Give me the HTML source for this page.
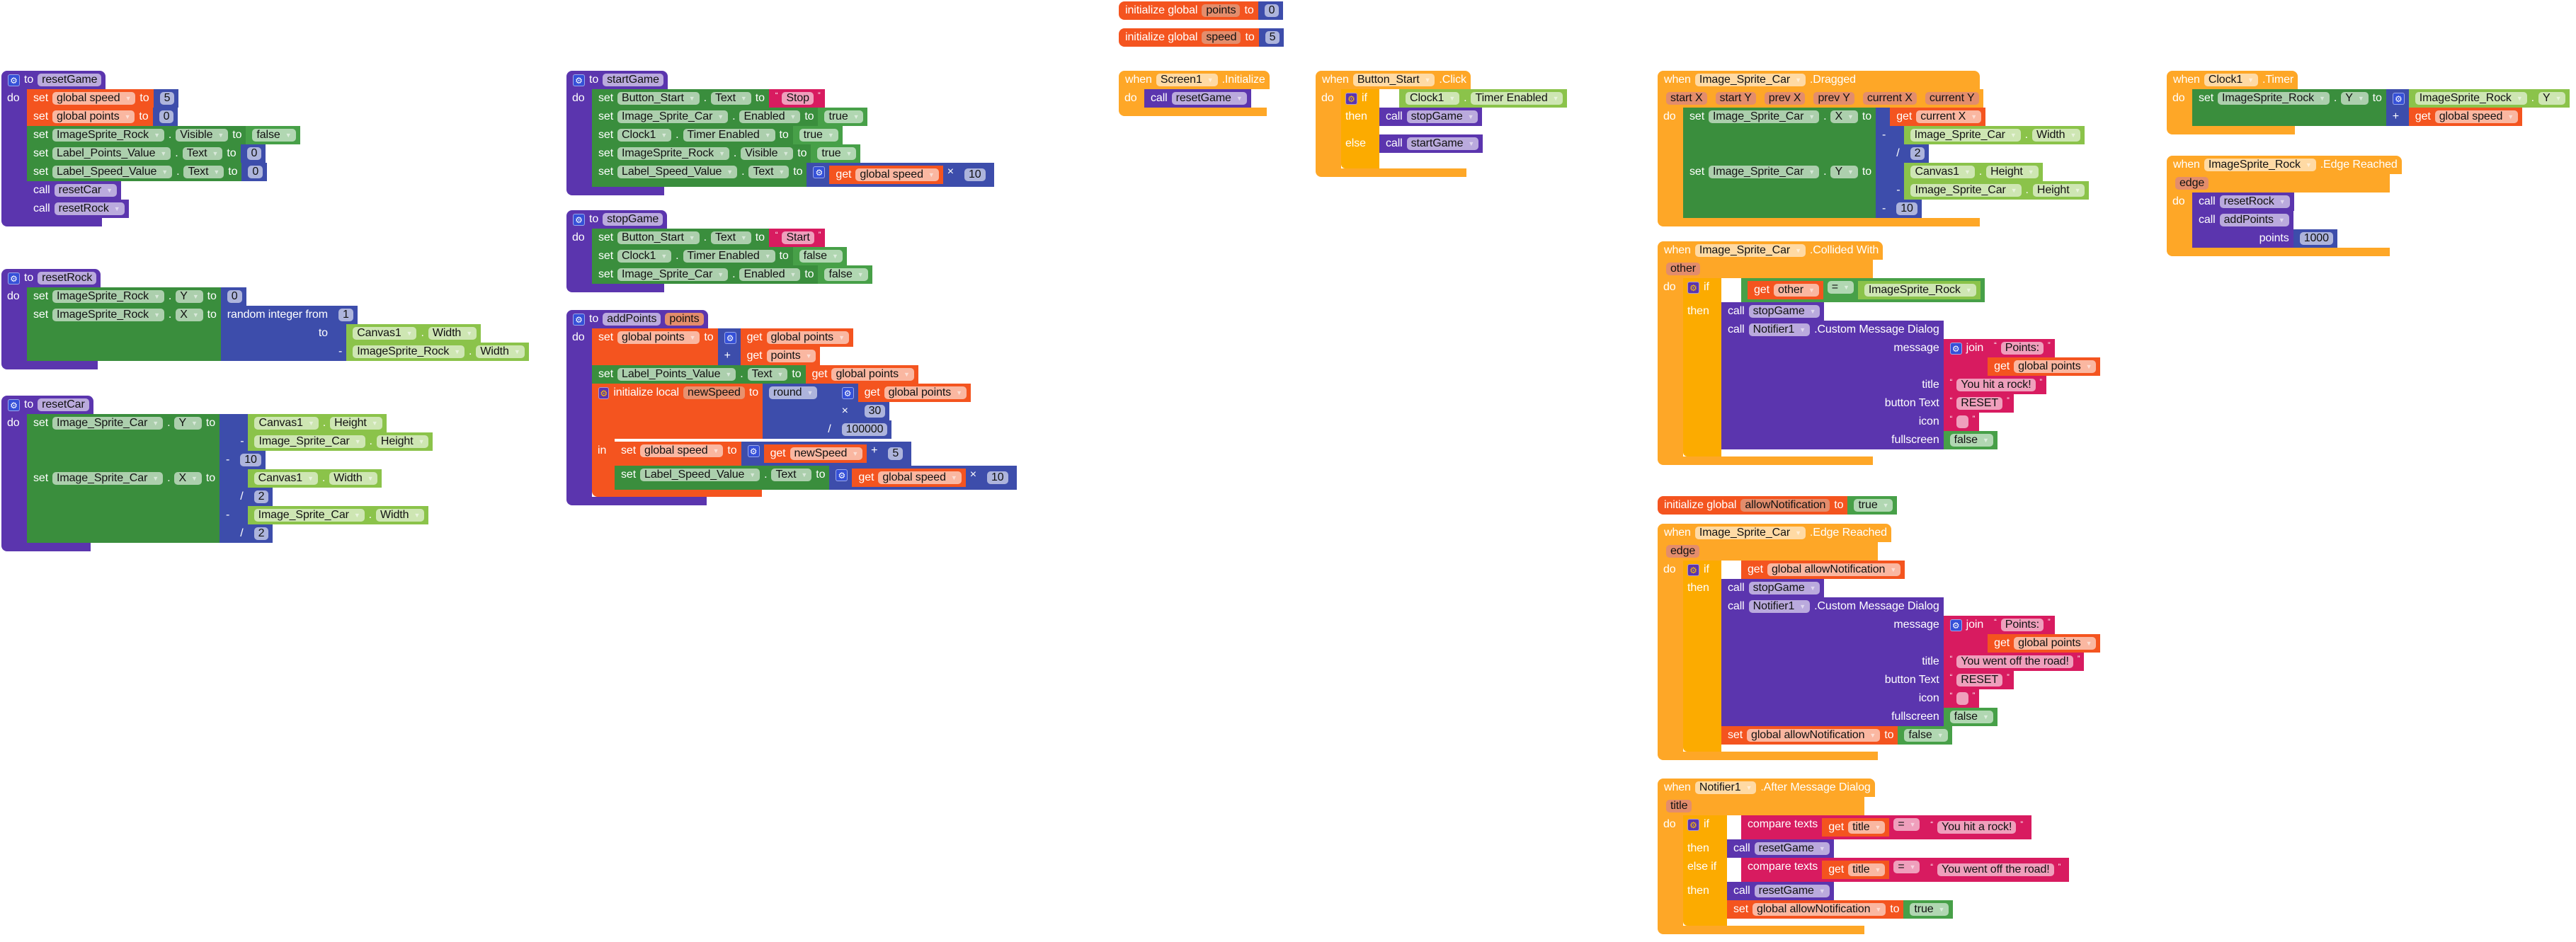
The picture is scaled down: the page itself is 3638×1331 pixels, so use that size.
<!DOCTYPE html>
<html><head><meta charset="utf-8"><style>
html,body{margin:0;padding:0;background:#fff}
body{width:3638px;height:1331px;position:relative;overflow:hidden;font-family:"Liberation Sans",Arial,sans-serif;font-size:16px;letter-spacing:-0.1px}
.h{position:absolute;display:flex;flex-direction:column;align-items:flex-start}
.hd{background:var(--c);min-height:26px;line-height:26px;color:#fff;display:flex;gap:6px;padding:0 6px 0 9px;box-sizing:border-box;white-space:nowrap}
.hd.t{border-radius:8px 8px 0 0}
.bd{display:flex}
.lb{background:var(--c);width:36px;color:#fff;line-height:26px;padding-left:8px;box-sizing:border-box;flex:none}
.bt{background:var(--c);height:12px;border-radius:0 0 0 8px}
.s{display:flex;flex-direction:column;align-items:flex-start}
.b{display:inline-grid;grid-template-columns:auto auto;width:max-content;vertical-align:top}
.f{grid-column:1;background:var(--c);display:flex;justify-content:flex-end;align-items:flex-start;gap:6px;padding:0 6px 0 9px;min-height:26px;line-height:26px;color:#fff;white-space:nowrap}
.f.l{justify-content:flex-start}
.c{grid-column:2;align-self:start}
.f .b{margin:4px 0}
.f.bb{min-height:10px;border-radius:0 0 0 6px}
.ct{grid-template-columns:54px auto}
.ct>.f{justify-content:flex-start;padding-left:6px}
.iv{margin-left:28px}
p{margin:4px 0 0;display:inline-block;height:18px;line-height:18px;padding:0 6px;border-radius:5px;background:rgba(255,255,255,.58);color:#111}
p i{font-style:normal;font-size:9px;margin-left:7px;opacity:.55;vertical-align:top;color:#fff}
p.pr{background:#e38d6c}
.q{font-size:11px;line-height:18px}
.g{display:inline-block;width:17px;height:17px;margin-top:5px;background:#3550d8;border-radius:3px;color:#fff;font-size:12px;line-height:17px;text-align:center;border:1px solid rgba(255,255,255,.5);box-sizing:border-box}
.g.y{background:#5b35ae;color:#ffc400}
.pu{--c:#5b35ae}.or{--c:#f4541f}.dg{--c:#3a8e3d}.lg{--c:#8bc34a}.bl{--c:#3d4dab}.lo{--c:#47a048}.tx{--c:#d81b60}.ev{--c:#fea727}.ct{--c:#fcab00}
</style></head><body>

<!-- resetGame -->
<div class="h pu" style="left:2px;top:100px">
<div class="hd t" style="min-width:142px"><span class="g">⚙</span>to<p>resetGame</p></div>
<div class="bd"><div class="lb">do</div><div class="s">
<div class="b or"><div class="f l">set<p>global speed<i>▼</i></p>to</div><div class="c"><div class="b bl"><div class="f"><p>5</p></div></div></div></div>
<div class="b or"><div class="f l">set<p>global points<i>▼</i></p>to</div><div class="c"><div class="b bl"><div class="f"><p>0</p></div></div></div></div>
<div class="b dg"><div class="f l">set<p>ImageSprite_Rock<i>▼</i></p>.<p>Visible<i>▼</i></p>to</div><div class="c"><div class="b lo"><div class="f"><p>false<i>▼</i></p></div></div></div></div>
<div class="b dg"><div class="f l">set<p>Label_Points_Value<i>▼</i></p>.<p>Text<i>▼</i></p>to</div><div class="c"><div class="b bl"><div class="f"><p>0</p></div></div></div></div>
<div class="b dg"><div class="f l">set<p>Label_Speed_Value<i>▼</i></p>.<p>Text<i>▼</i></p>to</div><div class="c"><div class="b bl"><div class="f"><p>0</p></div></div></div></div>
<div class="b pu"><div class="f l">call<p>resetCar<i>▼</i></p></div></div>
<div class="b pu"><div class="f l">call<p>resetRock<i>▼</i></p></div></div>
</div></div>
<div class="bt" style="width:142px"></div>
</div>

<!-- resetRock -->
<div class="h pu" style="left:2px;top:380px">
<div class="hd t" style="min-width:136px"><span class="g">⚙</span>to<p>resetRock</p></div>
<div class="bd"><div class="lb">do</div><div class="s">
<div class="b dg"><div class="f l">set<p>ImageSprite_Rock<i>▼</i></p>.<p>Y<i>▼</i></p>to</div><div class="c"><div class="b bl"><div class="f"><p>0</p></div></div></div></div>
<div class="b dg"><div class="f l">set<p>ImageSprite_Rock<i>▼</i></p>.<p>X<i>▼</i></p>to</div><div class="c">
 <div class="b bl"><div class="f l">random integer from</div><div class="c"><div class="b bl"><div class="f"><p>1</p></div></div></div>
 <div class="f">to</div><div class="c"><div class="b bl"><div class="f"></div><div class="c"><div class="b lg"><div class="f l"><p>Canvas1<i>▼</i></p>.<p>Width<i>▼</i></p></div></div></div><div class="f">-</div><div class="c"><div class="b lg"><div class="f l"><p>ImageSprite_Rock<i>▼</i></p>.<p>Width<i>▼</i></p></div></div></div></div></div></div>
</div></div>
</div></div>
<div class="bt" style="width:136px"></div>
</div>

<!-- resetCar -->
<div class="h pu" style="left:2px;top:559px">
<div class="hd t" style="min-width:126px"><span class="g">⚙</span>to<p>resetCar</p></div>
<div class="bd"><div class="lb">do</div><div class="s">
<div class="b dg"><div class="f l">set<p>Image_Sprite_Car<i>▼</i></p>.<p>Y<i>▼</i></p>to</div><div class="c">
 <div class="b bl"><div class="f"></div><div class="c"><div class="b bl"><div class="f"></div><div class="c"><div class="b lg"><div class="f l"><p>Canvas1<i>▼</i></p>.<p>Height<i>▼</i></p></div></div></div><div class="f">-</div><div class="c"><div class="b lg"><div class="f l"><p>Image_Sprite_Car<i>▼</i></p>.<p>Height<i>▼</i></p></div></div></div></div></div>
 <div class="f">-</div><div class="c"><div class="b bl"><div class="f"><p>10</p></div></div></div></div>
</div></div>
<div class="b dg"><div class="f l">set<p>Image_Sprite_Car<i>▼</i></p>.<p>X<i>▼</i></p>to</div><div class="c">
 <div class="b bl"><div class="f"></div><div class="c"><div class="b bl"><div class="f"></div><div class="c"><div class="b lg"><div class="f l"><p>Canvas1<i>▼</i></p>.<p>Width<i>▼</i></p></div></div></div><div class="f">/</div><div class="c"><div class="b bl"><div class="f"><p>2</p></div></div></div></div></div>
 <div class="f">-</div><div class="c"><div class="b bl"><div class="f"></div><div class="c"><div class="b lg"><div class="f l"><p>Image_Sprite_Car<i>▼</i></p>.<p>Width<i>▼</i></p></div></div></div><div class="f">/</div><div class="c"><div class="b bl"><div class="f"><p>2</p></div></div></div></div></div></div>
</div></div>
</div></div>
<div class="bt" style="width:126px"></div>
</div>

<!-- startGame -->
<div class="h pu" style="left:800px;top:100px">
<div class="hd t" style="min-width:138px"><span class="g">⚙</span>to<p>startGame</p></div>
<div class="bd"><div class="lb">do</div><div class="s">
<div class="b dg"><div class="f l">set<p>Button_Start<i>▼</i></p>.<p>Text<i>▼</i></p>to</div><div class="c"><div class="b tx"><div class="f"><span class="q">“</span><p>Stop</p><span class="q">”</span></div></div></div></div>
<div class="b dg"><div class="f l">set<p>Image_Sprite_Car<i>▼</i></p>.<p>Enabled<i>▼</i></p>to</div><div class="c"><div class="b lo"><div class="f"><p>true<i>▼</i></p></div></div></div></div>
<div class="b dg"><div class="f l">set<p>Clock1<i>▼</i></p>.<p>Timer Enabled<i>▼</i></p>to</div><div class="c"><div class="b lo"><div class="f"><p>true<i>▼</i></p></div></div></div></div>
<div class="b dg"><div class="f l">set<p>ImageSprite_Rock<i>▼</i></p>.<p>Visible<i>▼</i></p>to</div><div class="c"><div class="b lo"><div class="f"><p>true<i>▼</i></p></div></div></div></div>
<div class="b dg"><div class="f l">set<p>Label_Speed_Value<i>▼</i></p>.<p>Text<i>▼</i></p>to</div><div class="c"><div class="b bl"><div class="f l"><span class="g">⚙</span><div class="b or"><div class="f l">get<p>global speed<i>▼</i></p></div></div>×<div class="b bl"><div class="f"><p>10</p></div></div></div></div></div></div>
</div></div>
<div class="bt" style="width:138px"></div>
</div>

<!-- stopGame -->
<div class="h pu" style="left:800px;top:297px">
<div class="hd t" style="min-width:138px"><span class="g">⚙</span>to<p>stopGame</p></div>
<div class="bd"><div class="lb">do</div><div class="s">
<div class="b dg"><div class="f l">set<p>Button_Start<i>▼</i></p>.<p>Text<i>▼</i></p>to</div><div class="c"><div class="b tx"><div class="f"><span class="q">“</span><p>Start</p><span class="q">”</span></div></div></div></div>
<div class="b dg"><div class="f l">set<p>Clock1<i>▼</i></p>.<p>Timer Enabled<i>▼</i></p>to</div><div class="c"><div class="b lo"><div class="f"><p>false<i>▼</i></p></div></div></div></div>
<div class="b dg"><div class="f l">set<p>Image_Sprite_Car<i>▼</i></p>.<p>Enabled<i>▼</i></p>to</div><div class="c"><div class="b lo"><div class="f"><p>false<i>▼</i></p></div></div></div></div>
</div></div>
<div class="bt" style="width:138px"></div>
</div>

<!-- addPoints -->
<div class="h pu" style="left:800px;top:438px">
<div class="hd t" style="min-width:198px"><span class="g">⚙</span>to<p>addPoints</p><p class="pr">points</p></div>
<div class="bd"><div class="lb">do</div><div class="s">
<div class="b or"><div class="f l">set<p>global points<i>▼</i></p>to</div><div class="c">
 <div class="b bl"><div class="f l"><span class="g">⚙</span></div><div class="c"><div class="b or"><div class="f l">get<p>global points<i>▼</i></p></div></div></div><div class="f l">+</div><div class="c"><div class="b or"><div class="f l">get<p>points<i>▼</i></p></div></div></div></div>
</div></div>
<div class="b dg"><div class="f l">set<p>Label_Points_Value<i>▼</i></p>.<p>Text<i>▼</i></p>to</div><div class="c"><div class="b or"><div class="f l">get<p>global points<i>▼</i></p></div></div></div></div>
<div class="or" style="display:flex;flex-direction:column;align-items:flex-start">
 <div class="b or"><div class="f l" style="width:226px;justify-content:flex-start"><span class="g y">⚙</span>initialize local<p class="pr" style="background:#e8916f">newSpeed</p>to</div><div class="c">
  <div class="b bl"><div class="f l"><p>round<i>▼</i></p></div><div class="c">
   <div class="b bl"><div class="f"></div><div class="c"><div class="b bl"><div class="f l"><span class="g">⚙</span></div><div class="c"><div class="b or"><div class="f l">get<p>global points<i>▼</i></p></div></div></div><div class="f l">×</div><div class="c"><div class="b bl"><div class="f"><p>30</p></div></div></div></div></div>
   <div class="f">/</div><div class="c"><div class="b bl"><div class="f"><p>100000</p></div></div></div></div>
  </div></div>
 </div></div>
 <div class="bd"><div class="lb" style="width:32px;padding-top:4px">in</div><div class="s" style="padding-top:4px">
  <div class="b or"><div class="f l">set<p>global speed<i>▼</i></p>to</div><div class="c"><div class="b bl"><div class="f l"><span class="g">⚙</span><div class="b or"><div class="f l">get<p>newSpeed<i>▼</i></p></div></div>+<div class="b bl"><div class="f"><p>5</p></div></div></div></div></div></div>
  <div class="b dg"><div class="f l">set<p>Label_Speed_Value<i>▼</i></p>.<p>Text<i>▼</i></p>to</div><div class="c"><div class="b bl"><div class="f l"><span class="g">⚙</span><div class="b or"><div class="f l">get<p>global speed<i>▼</i></p></div></div>×<div class="b bl"><div class="f"><p>10</p></div></div></div></div></div></div>
 </div></div>
 <div class="bt" style="width:240px;height:10px"></div>
</div>
</div></div>
<div class="bt" style="width:198px"></div>
</div>

<!-- init globals -->
<div class="h or" style="left:1580px;top:2px"><div class="b or"><div class="f l" style="border-radius:8px 0 0 8px">initialize global<p class="pr">points</p>to</div><div class="c"><div class="b bl"><div class="f"><p>0</p></div></div></div></div></div>
<div class="h or" style="left:1580px;top:40px"><div class="b or"><div class="f l" style="border-radius:8px 0 0 8px">initialize global<p class="pr">speed</p>to</div><div class="c"><div class="b bl"><div class="f"><p>5</p></div></div></div></div></div>

<!-- Screen1.Initialize -->
<div class="h ev" style="left:1580px;top:100px">
<div class="hd t" style="min-width:209px">when<p>Screen1<i>▼</i></p>.Initialize</div>
<div class="bd"><div class="lb">do</div><div class="s">
<div class="b pu"><div class="f l">call<p>resetGame<i>▼</i></p></div></div>
</div></div>
<div class="bt" style="width:209px"></div>
</div>

<!-- Button_Start.Click -->
<div class="h ev" style="left:1858px;top:100px">
<div class="hd t" style="min-width:213px">when<p>Button_Start<i>▼</i></p>.Click</div>
<div class="bd"><div class="lb">do</div><div class="s">
<div class="b ct"><div class="f"><span class="g y">⚙</span>if</div><div class="c iv"><div class="b lg"><div class="f l"><p>Clock1<i>▼</i></p>.<p>Timer Enabled<i>▼</i></p></div></div></div>
<div class="f" style="min-height:38px">then</div><div class="c"><div class="s"><div class="b pu"><div class="f l">call<p>stopGame<i>▼</i></p></div></div></div></div>
<div class="f" style="min-height:38px">else</div><div class="c"><div class="s"><div class="b pu"><div class="f l">call<p>startGame<i>▼</i></p></div></div></div></div>
<div class="f bb"></div></div>
</div></div>
<div class="bt" style="width:213px"></div>
</div>

<!-- Dragged -->
<div class="h ev" style="left:2341px;top:100px">
<div class="hd t" style="min-width:455px">when<p>Image_Sprite_Car<i>▼</i></p>.Dragged</div>
<div class="hd" style="min-width:455px;gap:12px;padding-left:12px"><p class="pr">start X</p><p class="pr">start Y</p><p class="pr">prev X</p><p class="pr">prev Y</p><p class="pr">current X</p><p class="pr">current Y</p></div>
<div class="bd"><div class="lb">do</div><div class="s">
<div class="b dg"><div class="f l">set<p>Image_Sprite_Car<i>▼</i></p>.<p>X<i>▼</i></p>to</div><div class="c">
 <div class="b bl"><div class="f"></div><div class="c"><div class="b or"><div class="f l">get<p>current X<i>▼</i></p></div></div></div>
 <div class="f">-</div><div class="c"><div class="b bl"><div class="f"></div><div class="c"><div class="b lg"><div class="f l"><p>Image_Sprite_Car<i>▼</i></p>.<p>Width<i>▼</i></p></div></div></div><div class="f">/</div><div class="c"><div class="b bl"><div class="f"><p>2</p></div></div></div></div></div></div>
</div></div>
<div class="b dg"><div class="f l">set<p>Image_Sprite_Car<i>▼</i></p>.<p>Y<i>▼</i></p>to</div><div class="c">
 <div class="b bl"><div class="f"></div><div class="c"><div class="b bl"><div class="f"></div><div class="c"><div class="b lg"><div class="f l"><p>Canvas1<i>▼</i></p>.<p>Height<i>▼</i></p></div></div></div><div class="f">-</div><div class="c"><div class="b lg"><div class="f l"><p>Image_Sprite_Car<i>▼</i></p>.<p>Height<i>▼</i></p></div></div></div></div></div>
 <div class="f">-</div><div class="c"><div class="b bl"><div class="f"><p>10</p></div></div></div></div>
</div></div>
</div></div>
<div class="bt" style="width:455px"></div>
</div>

<!-- Collided With -->
<div class="h ev" style="left:2341px;top:341px">
<div class="hd t" style="min-width:304px">when<p>Image_Sprite_Car<i>▼</i></p>.Collided With</div>
<div class="hd" style="min-width:304px;padding-left:12px"><p class="pr">other</p></div>
<div class="bd"><div class="lb">do</div><div class="s">
<div class="b ct"><div class="f"><span class="g y">⚙</span>if</div><div class="c iv"><div class="b lo"><div class="f l"><div class="b or"><div class="f l">get<p>other<i>▼</i></p></div></div><p>=<i>▼</i></p><div class="b lg"><div class="f l"><p>ImageSprite_Rock<i>▼</i></p></div></div></div></div></div>
<div class="f">then</div><div class="c"><div class="s">
 <div class="b pu"><div class="f l">call<p>stopGame<i>▼</i></p></div></div>
 <div class="b pu"><div class="f l">call<p>Notifier1<i>▼</i></p>.Custom Message Dialog</div><div class="c"></div>
  <div class="f">message</div><div class="c"><div class="b tx"><div class="f l"><span class="g">⚙</span>join</div><div class="c"><div class="b tx"><div class="f"><span class="q">“</span><p>Points:</p><span class="q">”</span></div></div></div><div class="f"></div><div class="c"><div class="b or"><div class="f l">get<p>global points<i>▼</i></p></div></div></div></div></div>
  <div class="f">title</div><div class="c"><div class="b tx"><div class="f"><span class="q">“</span><p>You hit a rock!</p><span class="q">”</span></div></div></div>
  <div class="f">button Text</div><div class="c"><div class="b tx"><div class="f"><span class="q">“</span><p>RESET</p><span class="q">”</span></div></div></div>
  <div class="f">icon</div><div class="c"><div class="b tx"><div class="f"><span class="q">“</span><p>&nbsp;</p><span class="q">”</span></div></div></div>
  <div class="f">fullscreen</div><div class="c"><div class="b lo"><div class="f"><p>false<i>▼</i></p></div></div></div>
 </div>
</div></div>
<div class="f bb"></div></div>
</div></div>
<div class="bt" style="width:304px"></div>
</div>

<!-- allowNotification -->
<div class="h or" style="left:2341px;top:701px"><div class="b or"><div class="f l" style="border-radius:8px 0 0 8px">initialize global<p class="pr">allowNotification</p>to</div><div class="c"><div class="b lo"><div class="f"><p>true<i>▼</i></p></div></div></div></div></div>

<!-- Car Edge Reached -->
<div class="h ev" style="left:2341px;top:740px">
<div class="hd t" style="min-width:311px">when<p>Image_Sprite_Car<i>▼</i></p>.Edge Reached</div>
<div class="hd" style="min-width:311px;padding-left:12px"><p class="pr">edge</p></div>
<div class="bd"><div class="lb">do</div><div class="s">
<div class="b ct"><div class="f"><span class="g y">⚙</span>if</div><div class="c iv"><div class="b or"><div class="f l">get<p>global allowNotification<i>▼</i></p></div></div></div>
<div class="f">then</div><div class="c"><div class="s">
 <div class="b pu"><div class="f l">call<p>stopGame<i>▼</i></p></div></div>
 <div class="b pu"><div class="f l">call<p>Notifier1<i>▼</i></p>.Custom Message Dialog</div><div class="c"></div>
  <div class="f">message</div><div class="c"><div class="b tx"><div class="f l"><span class="g">⚙</span>join</div><div class="c"><div class="b tx"><div class="f"><span class="q">“</span><p>Points:</p><span class="q">”</span></div></div></div><div class="f"></div><div class="c"><div class="b or"><div class="f l">get<p>global points<i>▼</i></p></div></div></div></div></div>
  <div class="f">title</div><div class="c"><div class="b tx"><div class="f"><span class="q">“</span><p>You went off the road!</p><span class="q">”</span></div></div></div>
  <div class="f">button Text</div><div class="c"><div class="b tx"><div class="f"><span class="q">“</span><p>RESET</p><span class="q">”</span></div></div></div>
  <div class="f">icon</div><div class="c"><div class="b tx"><div class="f"><span class="q">“</span><p>&nbsp;</p><span class="q">”</span></div></div></div>
  <div class="f">fullscreen</div><div class="c"><div class="b lo"><div class="f"><p>false<i>▼</i></p></div></div></div>
 </div>
 <div class="b or"><div class="f l">set<p>global allowNotification<i>▼</i></p>to</div><div class="c"><div class="b lo"><div class="f"><p>false<i>▼</i></p></div></div></div></div>
</div></div>
<div class="f bb"></div></div>
</div></div>
<div class="bt" style="width:311px"></div>
</div>

<!-- Notifier After -->
<div class="h ev" style="left:2341px;top:1100px">
<div class="hd t" style="min-width:292px">when<p>Notifier1<i>▼</i></p>.After Message Dialog</div>
<div class="hd" style="min-width:292px;padding-left:12px"><p class="pr">title</p></div>
<div class="bd"><div class="lb">do</div><div class="s">
<div class="b ct" style="grid-template-columns:62px auto"><div class="f"><span class="g y">⚙</span>if</div><div class="c" style="margin-left:20px"><div class="b tx"><div class="f l">compare texts<div class="b or"><div class="f l">get<p>title<i>▼</i></p></div></div><p>=<i>▼</i></p><div class="b tx"><div class="f"><span class="q">“</span><p>You hit a rock!</p><span class="q">”</span></div></div></div></div></div>
<div class="f">then</div><div class="c"><div class="s"><div class="b pu"><div class="f l">call<p>resetGame<i>▼</i></p></div></div></div></div>
<div class="f">else if</div><div class="c" style="margin-left:20px"><div class="b tx"><div class="f l">compare texts<div class="b or"><div class="f l">get<p>title<i>▼</i></p></div></div><p>=<i>▼</i></p><div class="b tx"><div class="f"><span class="q">“</span><p>You went off the road!</p><span class="q">”</span></div></div></div></div></div>
<div class="f">then</div><div class="c"><div class="s">
 <div class="b pu"><div class="f l">call<p>resetGame<i>▼</i></p></div></div>
 <div class="b or"><div class="f l">set<p>global allowNotification<i>▼</i></p>to</div><div class="c"><div class="b lo"><div class="f"><p>true<i>▼</i></p></div></div></div></div>
</div></div>
<div class="f bb"></div></div>
</div></div>
<div class="bt" style="width:292px"></div>
</div>

<!-- Clock1.Timer -->
<div class="h ev" style="left:3060px;top:100px">
<div class="hd t" style="min-width:181px">when<p>Clock1<i>▼</i></p>.Timer</div>
<div class="bd"><div class="lb">do</div><div class="s">
<div class="b dg"><div class="f l">set<p>ImageSprite_Rock<i>▼</i></p>.<p>Y<i>▼</i></p>to</div><div class="c">
 <div class="b bl"><div class="f l"><span class="g">⚙</span></div><div class="c"><div class="b lg"><div class="f l"><p>ImageSprite_Rock<i>▼</i></p>.<p>Y<i>▼</i></p></div></div></div><div class="f l">+</div><div class="c"><div class="b or"><div class="f l">get<p>global speed<i>▼</i></p></div></div></div></div>
</div></div>
</div></div>
<div class="bt" style="width:181px"></div>
</div>

<!-- Rock Edge Reached -->
<div class="h ev" style="left:3060px;top:220px">
<div class="hd t" style="min-width:315px">when<p>ImageSprite_Rock<i>▼</i></p>.Edge Reached</div>
<div class="hd" style="min-width:315px;padding-left:12px"><p class="pr">edge</p></div>
<div class="bd"><div class="lb">do</div><div class="s">
<div class="b pu"><div class="f l">call<p>resetRock<i>▼</i></p></div></div>
<div class="b pu"><div class="f l">call<p>addPoints<i>▼</i></p></div><div class="c"></div><div class="f">points</div><div class="c"><div class="b bl"><div class="f"><p>1000</p></div></div></div></div>
</div></div>
<div class="bt" style="width:315px"></div>
</div>

</body></html>
